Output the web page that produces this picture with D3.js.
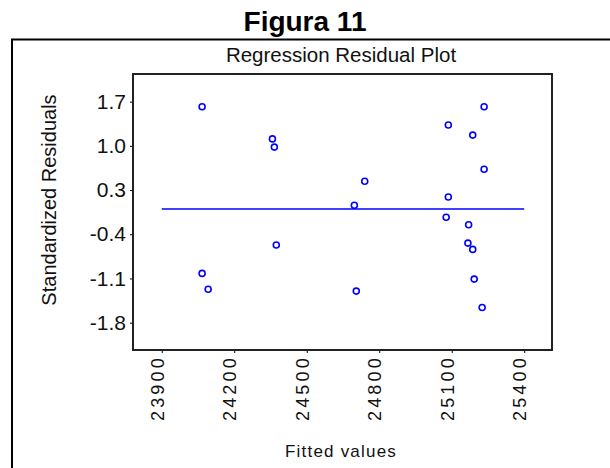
<!DOCTYPE html>
<html>
<head>
<meta charset="utf-8">
<script src="https://cdn.jsdelivr.net/npm/d3@7"></script>
<style>
  html, body { margin: 0; padding: 0; background: #fff; }
  svg { display: block; font-family: "Liberation Sans", Arial, sans-serif; }
</style>
</head>
<body>
<svg id="chart" width="610" height="468"></svg>
<script>
// Fitted values and their standardized residuals
const fitted = [24067, 24358, 24366, 24740, 24697, 24374, 24067, 24092, 24705,
                25234, 25086, 25187, 25234, 25086, 25077, 25170, 25167, 25187, 25193, 25226];
const residuals = [1.62, 1.11, 0.98, 0.44, 0.06, -0.57, -1.02, -1.27, -1.30,
                   1.62, 1.33, 1.17, 0.63, 0.19, -0.13, -0.25, -0.54, -0.64, -1.11, -1.56];

// Axis ticks
const xTicks = [23900, 24200, 24500, 24800, 25100, 25400];
const yTicks = [1.7, 1.0, 0.3, -0.4, -1.1, -1.8];

// Zero-residual reference line endpoints (fitted values)
const zeroLine = [23900, 25400];

const svg = d3.select("#chart");

// Plot area
const plot = { left: 133, right: 552, top: 74, bottom: 350 };

const x = d3.scaleLinear().domain([23781, 25515]).range([plot.left, plot.right]);
const y = d3.scaleLinear().domain([-2.233, 2.138]).range([plot.bottom, plot.top]);

// Plain hyphen-minus for negative tick labels
const fmtY = d3.formatLocale({ decimal: ".", thousands: ",", grouping: [3],
                               currency: ["", ""], minus: "-" }).format(".1f");

// Outer figure frame
svg.append("rect")
  .attr("x", 12).attr("y", 39.5)
  .attr("width", 700).attr("height", 500)
  .attr("fill", "none").attr("stroke", "#000").attr("stroke-width", 2);

// Figure caption
svg.append("text")
  .attr("x", 305).attr("y", 31)
  .attr("text-anchor", "middle")
  .attr("font-weight", "bold")
  .attr("font-size", 28)
  .text("Figura 11");

// Chart title
svg.append("text")
  .attr("x", 341).attr("y", 62)
  .attr("text-anchor", "middle")
  .attr("font-size", 20.5)
  .attr("fill", "#111")
  .text("Regression Residual Plot");

// Y axis
const yAxis = svg.append("g")
  .attr("transform", `translate(${plot.left},0)`)
  .call(d3.axisLeft(y).tickValues(yTicks).tickSize(3).tickPadding(4).tickFormat(fmtY));
yAxis.select(".domain").remove();
yAxis.selectAll("text").attr("font-size", 21).attr("fill", "#111")
  .attr("font-family", "\"Liberation Sans\", Arial, sans-serif");

// X axis with vertical labels
const xAxis = svg.append("g")
  .attr("transform", `translate(0,${plot.bottom})`)
  .call(d3.axisBottom(x).tickValues(xTicks).tickSize(3).tickFormat(d3.format("d")));
xAxis.select(".domain").remove();
xAxis.selectAll("text")
  .attr("transform", "rotate(-90)")
  .attr("text-anchor", "end")
  .attr("x", -5).attr("y", 1.5).attr("dy", 0)
  .attr("font-size", 18)
  .attr("letter-spacing", 3.2)
  .attr("fill", "#111")
  .attr("font-family", "\"Liberation Sans\", Arial, sans-serif");

// Plot frame
svg.append("rect")
  .attr("x", plot.left).attr("y", plot.top)
  .attr("width", plot.right - plot.left).attr("height", plot.bottom - plot.top)
  .attr("fill", "none").attr("stroke", "#222").attr("stroke-width", 2);

// Zero-residual line
svg.append("line")
  .attr("x1", x(zeroLine[0])).attr("x2", x(zeroLine[1]))
  .attr("y1", y(0)).attr("y2", y(0))
  .attr("stroke", "#0000ff").attr("stroke-width", 1.6);

// Residual points
svg.append("g").selectAll("circle")
  .data(fitted.map((f, i) => [f, residuals[i]]))
  .join("circle")
  .attr("cx", d => x(d[0]))
  .attr("cy", d => y(d[1]))
  .attr("r", 3)
  .attr("fill", "#fff")
  .attr("stroke", "#0000ff")
  .attr("stroke-width", 1.6);

// Axis titles
svg.append("text")
  .attr("transform", `translate(56,200) rotate(-90)`)
  .attr("text-anchor", "middle")
  .attr("font-size", 20)
  .attr("fill", "#111")
  .text("Standardized Residuals");

svg.append("text")
  .attr("x", 341).attr("y", 457)
  .attr("text-anchor", "middle")
  .attr("font-size", 17)
  .attr("letter-spacing", 1.2)
  .attr("fill", "#111")
  .text("Fitted values");
</script>
</body>
</html>
